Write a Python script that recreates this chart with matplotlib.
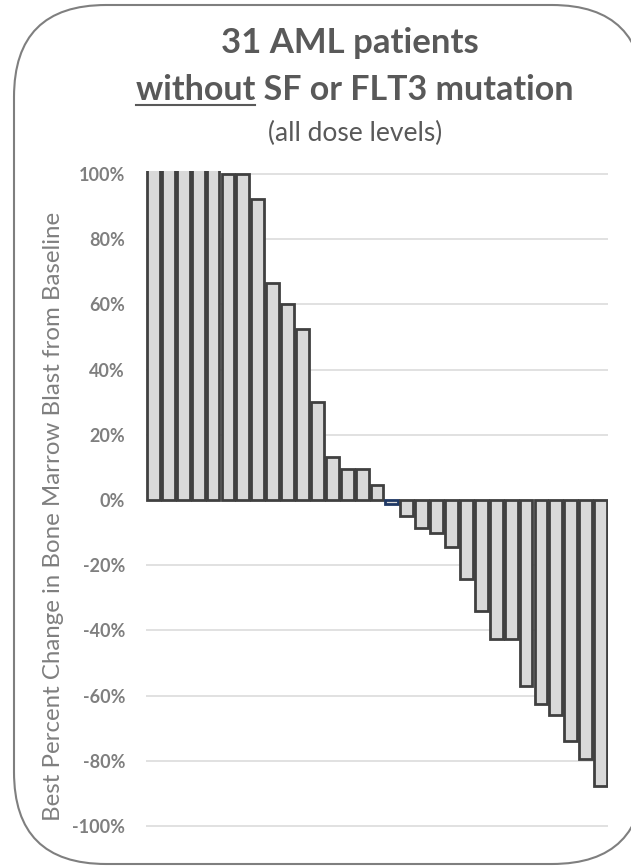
import matplotlib
matplotlib.use("Agg")
import matplotlib.pyplot as plt
from matplotlib.patches import FancyBboxPatch
from matplotlib.lines import Line2D
from matplotlib.ticker import FuncFormatter

# Best percent change in bone marrow blasts, one bar per patient (sorted waterfall)
patients = list(range(1, 32))
best_change = [1.60, 1.45, 1.35, 1.25, 1.10, 1.00, 1.00, 0.923, 0.665, 0.60,
               0.524, 0.30, 0.133, 0.094, 0.094, 0.046, -0.012, -0.048, -0.087,
               -0.102, -0.143, -0.243, -0.34, -0.427, -0.427, -0.57, -0.626,
               -0.658, -0.74, -0.796, -0.876]
highlighted_patient = 17
y_ticks = [-1.0, -0.8, -0.6, -0.4, -0.2, 0.0, 0.2, 0.4, 0.6, 0.8, 1.0]

title_line1 = "31 AML patients"
title_under = "without"
title_line2 = "without SF or FLT3 mutation"
title_line3 = "(all dose levels)"
y_label = "Best Percent Change in Bone Marrow Blast from Baseline"

W, H, DPI = 631, 866, 100
plt.rcParams['font.family'] = ['Lato', 'DejaVu Sans']

fig = plt.figure(figsize=(W / DPI, H / DPI), dpi=DPI)

# pixel-space layer for the rounded frame
frame_ax = fig.add_axes([0, 0, 1, 1], zorder=0)
frame_ax.set_xlim(0, W)
frame_ax.set_ylim(H, 0)
frame_ax.axis('off')
frame = FancyBboxPatch((14, 5), 644 - 14, 864 - 5,
                       boxstyle="round,pad=0,rounding_size=92",
                       facecolor='white', edgecolor='#7f7f7f', linewidth=1.5)
frame_ax.add_patch(frame)

# main chart area (pixel positions converted to figure fractions)
ymin, ymax = -1.01, 1.01
px_per_unit = 326.0
top_px = 174 - (ymax - 1.0) * px_per_unit
bot_px = 826 + (-1.0 - ymin) * px_per_unit
left_px, right_px = 146, 608
ax = fig.add_axes([left_px / W, 1 - bot_px / H, (right_px - left_px) / W,
                   (bot_px - top_px) / H], zorder=1)
ax.set_facecolor('none')

x = [p - 1 for p in patients]
edge_colors = ['#1f3864' if p == highlighted_patient else '#404040' for p in patients]
ax.bar(x, best_change, width=0.86, color='#d9d9d9', edgecolor=edge_colors,
       linewidth=2.0, zorder=3)

ax.set_xlim(-0.5, len(patients) - 0.5)
ax.set_ylim(ymin, ymax)
ax.set_yticks(y_ticks)
ax.yaxis.set_major_formatter(FuncFormatter(lambda v, _: f"{v * 100:.0f}%"))
ax.set_xticks([])
ax.tick_params(axis='y', length=0, pad=15, labelsize=13, labelcolor='#7f7f7f')
for lbl in ax.get_yticklabels():
    lbl.set_fontweight('bold')
ax.grid(axis='y', color='#d9d9d9', linewidth=1.1, zorder=0)
ax.set_axisbelow(True)
for s in ax.spines.values():
    s.set_visible(False)

fig.text(54 / W, 1 - 516 / H, y_label, rotation=90, ha='center', va='center',
         fontsize=17.3, color='#7f7f7f')

# title block
title_color = '#595959'
fig.text(350 / W, 1 - 53 / H, title_line1, ha='center', va='baseline',
         fontsize=25, fontweight='bold', color=title_color)
t2 = fig.text(354.5 / W, 1 - 100 / H, title_line2, ha='center', va='baseline',
              fontsize=24.5, fontweight='bold', color=title_color)
fig.text(355 / W, 1 - 141 / H, title_line3, ha='center', va='baseline',
         fontsize=19, color=title_color)

# underline the first word of the second title line
fig.canvas.draw()
renderer = fig.canvas.get_renderer()
full_bb = t2.get_window_extent(renderer)
tmp = fig.text(0, 0, title_under, fontsize=24.5, fontweight='bold')
w_bb = tmp.get_window_extent(renderer)
tmp.remove()
x0 = full_bb.x0 / W
x1 = (full_bb.x0 + w_bb.width) / W
fig.add_artist(Line2D([x0, x1], [1 - 104.5 / H, 1 - 104.5 / H],
                      color=title_color, linewidth=1.5, transform=fig.transFigure))

fig.savefig("out.png", dpi=DPI)
